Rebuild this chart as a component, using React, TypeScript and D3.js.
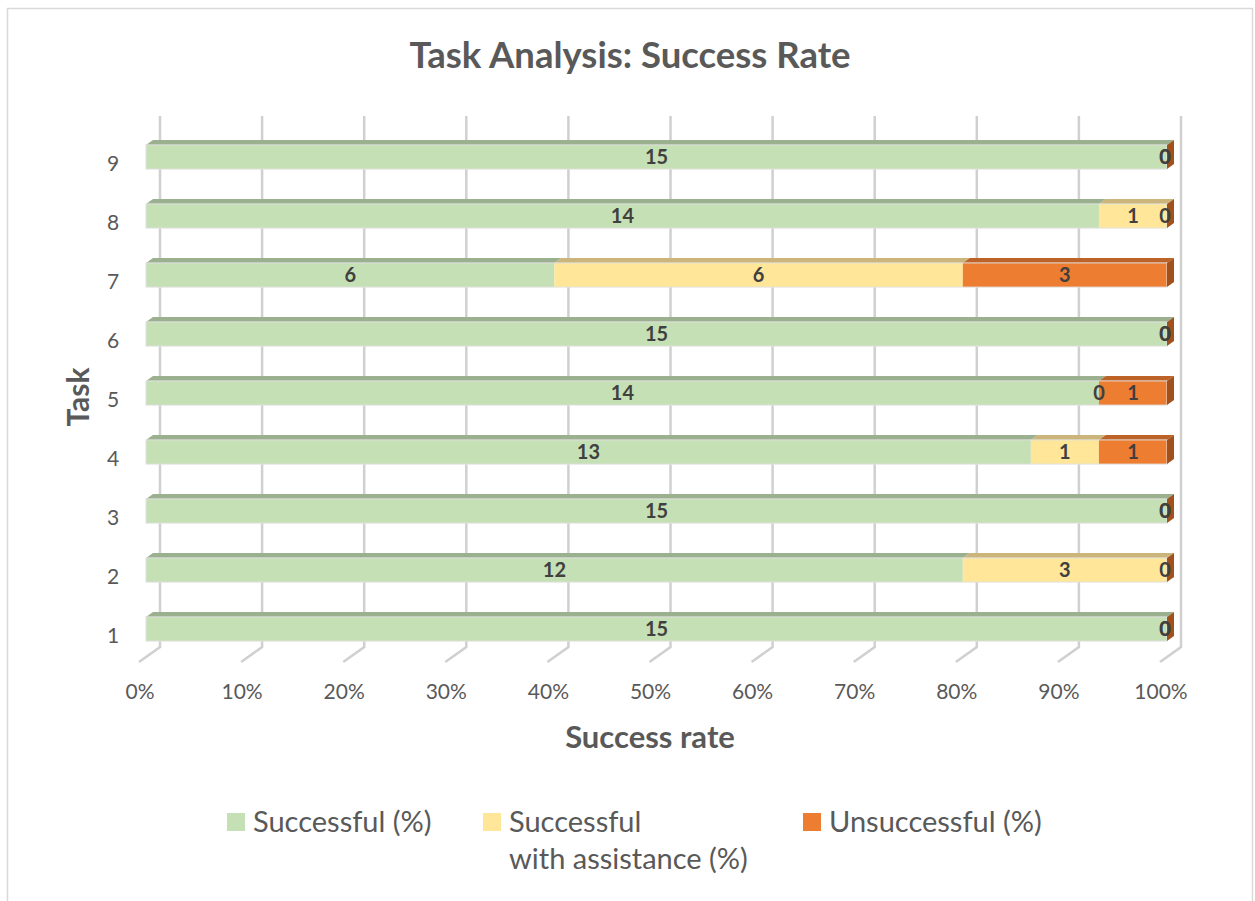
import React from 'react';
import * as d3 from 'd3';

const tasks = ['1', '2', '3', '4', '5', '6', '7', '8', '9'];
const successful = [15, 12, 15, 13, 14, 15, 6, 14, 15];
const assisted = [0, 3, 0, 1, 0, 0, 6, 1, 0];
const unsuccessful = [0, 0, 0, 1, 1, 0, 3, 0, 0];
const seriesNames = ['Successful (%)', 'Successful\nwith assistance (%)', 'Unsuccessful (%)'];
const percentTicks = [0, 0.1, 0.2, 0.3, 0.4, 0.5, 0.6, 0.7, 0.8, 0.9, 1];

const front = ['#C5E0B4', '#FFE699', '#ED7D31'];
const top = ['#9BB08E', '#CBB57B', '#BE6328'];
const side = ['#8FA383', '#BFA86F', '#A0511E'];

const W = 1255;
const H = 901;
const font = 'Lato, "Open Sans", sans-serif';
const textColor = '#595959';

// 3D box: floor front plane -> back wall offset
const DX = 21;
const DY = -15;
const floorY = 662;
const wallTop = 116;

const App = () => {
  const x = d3.scaleLinear().domain([0, 1]).range([139, 1160]);
  const y = d3.scaleBand().domain(tasks).range([floorY + 1.5, wallTop - DY + 1.5]).paddingInner(0.59).paddingOuter(0.295);

  const rows = tasks.map((t, i) => {
    const vals = [successful[i], assisted[i], unsuccessful[i]];
    const total = d3.sum(vals);
    let acc = 0;
    const segs = vals.map((v, s) => {
      const a = acc / total;
      acc += v;
      return { s, v, a, b: acc / total };
    });
    return { t, segs };
  });

  const bh = y.bandwidth();
  const ox = DX / 3;
  const oy = DY / 3;

  return (
    <svg width={W} height={H} style={{ position: 'absolute', left: 0, top: 0, background: '#fff' }}>
      <rect x={7.5} y={8.5} width={1245} height={H} fill="#fff" stroke="#d9d9d9" strokeWidth={1.5} />
      <text x={630} y={68} textAnchor="middle" fontFamily={font} fontWeight="bold" fontSize={36.5} fill={textColor}>
        Task Analysis: Success Rate
      </text>

      {/* gridlines on wall + floor */}
      {percentTicks.map((p) => (
        <g key={p} stroke="#d0d0d0" strokeWidth={2.5} fill="none">
          <polyline points={`${x(p) + DX},${wallTop} ${x(p) + DX},${floorY + DY} ${x(p)},${floorY}`} />
        </g>
      ))}

      {/* bars */}
      {rows.map((r) => {
        const y0 = (y(r.t) as number) + oy;
        const y1 = y0 + bh;
        const last = r.segs[r.segs.length - 1];
        return (
          <g key={r.t}>
            {r.segs.map((g) => {
              const x0 = x(g.a) + ox;
              const x1 = x(g.b) + ox;
              if (x1 - x0 < 0.01) return null;
              return (
                <g key={g.s}>
                  <polygon
                    points={`${x0},${y0} ${x1},${y0} ${x1 + ox},${y0 + oy} ${x0 + ox},${y0 + oy}`}
                    fill={top[g.s]}
                  />
                  <rect x={x0} y={y0} width={x1 - x0} height={bh} fill={front[g.s]} />
                </g>
              );
            })}
            <rect x={x(0) + ox} y={y0} width={x(1) - x(0)} height={bh} fill="none" stroke="#e2e2e2" strokeWidth={1} />
            <polygon
              points={`${x(1) + ox},${y0} ${x(1) + 2 * ox},${y0 + oy} ${x(1) + 2 * ox},${y1 + oy} ${x(1) + ox},${y1}`}
              fill={side[last.s]}
            />
            {r.segs.map((g) => (
              <text
                key={'l' + g.s}
                x={(x(g.a) + x(g.b)) / 2 + ox - (g.v === 0 && g.b === 1 ? 2 : 0)}
                y={y0 + bh / 2 + 7}
                textAnchor="middle"
                fontFamily={font}
                fontWeight="bold"
                fontSize={20}
                fill="#404040"
              >
                {g.v}
              </text>
            ))}
          </g>
        );
      })}

      {/* category labels */}
      {tasks.map((t) => (
        <text key={t} x={113} y={(y(t) as number) + bh / 2 + 9} textAnchor="middle" fontFamily={font} fontSize={21} fill={textColor}>
          {t}
        </text>
      ))}

      {/* percent tick labels */}
      {percentTicks.map((p) => (
        <text key={'t' + p} x={x(p) + 1} y={699} textAnchor="middle" fontFamily={font} fontSize={21} fill={textColor}>
          {d3.format('.0%')(p)}
        </text>
      ))}

      <text x={650} y={748} textAnchor="middle" fontFamily={font} fontWeight="bold" fontSize={31} fill={textColor}>
        Success rate
      </text>
      <text
        transform={`translate(89,397) rotate(-90)`}
        textAnchor="middle"
        fontFamily={font}
        fontWeight="bold"
        fontSize={30}
        fill={textColor}
      >
        Task
      </text>

      {/* legend */}
      {[227, 483, 803].map((lx, i) => (
        <g key={'lg' + i}>
          <rect x={lx} y={813} width={18} height={18} fill={front[i]} />
          {seriesNames[i].split('\n').map((line, k) => (
            <text key={k} x={lx + 26} y={832 + k * 37} fontFamily={font} fontSize={29} fill={textColor}>
              {line}
            </text>
          ))}
        </g>
      ))}
    </svg>
  );
};

export default App;
